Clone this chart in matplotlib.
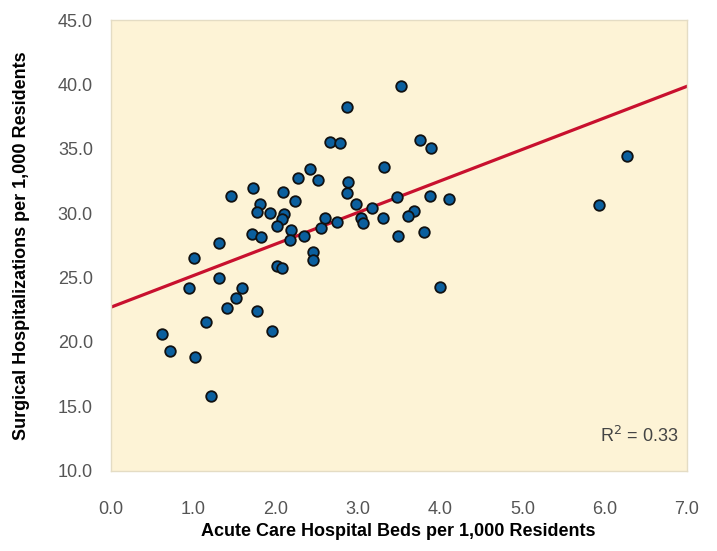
import numpy as np
import matplotlib.pyplot as plt

# acute care hospital beds per 1,000 residents
beds = [0.62, 0.72, 1.02, 1.21, 1.16, 1.41, 1.52, 1.59, 0.95, 1.31,
        1.77, 1.96, 1.01, 1.31, 1.46, 1.72, 2.09, 2.27, 2.24, 1.81,
        1.78, 1.93, 2.10, 2.08, 2.02, 2.19, 2.18, 1.71, 1.82, 2.02,
        2.08, 2.34, 2.55, 2.60, 2.75, 2.45, 2.45, 2.52, 2.42, 2.66,
        2.78, 2.87, 2.88, 2.87, 2.98, 3.04, 3.06, 3.17, 3.30, 3.32,
        3.52, 3.48, 3.68, 3.61, 3.76, 3.89, 3.88, 4.11, 3.49, 3.80,
        4.00, 5.93, 6.27]

# surgical hospitalizations per 1,000 residents
surg = [20.65, 19.30, 18.83, 15.80, 21.51, 22.61, 23.43, 24.16, 24.16, 24.96,
        22.42, 20.87, 26.48, 27.72, 31.33, 31.93, 31.64, 32.71, 30.97, 30.73,
        30.11, 30.04, 29.95, 29.56, 29.04, 28.69, 27.92, 28.38, 28.17, 25.90,
        25.74, 28.26, 28.81, 29.60, 29.31, 27.01, 26.36, 32.57, 33.43, 35.50,
        35.42, 38.27, 32.44, 31.59, 30.69, 29.65, 29.21, 30.38, 29.65, 33.56,
        39.87, 31.23, 30.19, 29.78, 35.68, 35.04, 31.36, 31.10, 28.23, 28.51,
        24.29, 30.63, 34.44]

# fitted trend line
intercept = 22.7
slope = 2.45
r_squared = 0.33

x_ticks = [0, 1, 2, 3, 4, 5, 6, 7]
y_ticks = [10, 15, 20, 25, 30, 35, 40, 45]

plt.rcParams['font.family'] = ['Liberation Sans Narrow', 'Liberation Sans', 'DejaVu Sans']

fig = plt.figure(figsize=(7.17, 5.51), dpi=100)
ax = fig.add_axes([0.1548, 0.1457, 0.8033, 0.818])
ax.set_facecolor('#fdf3d6')

xs = np.array([0, 7])
ax.plot(xs, intercept + slope * xs, color='#c8102e', lw=2.3, zorder=2)
ax.scatter(beds, surg, s=58, color='#0b5f9e', edgecolors='#111111',
           linewidths=1.3, zorder=3)

ax.set_xlim(0, 7)
ax.set_ylim(10, 45)
ax.set_xticks(x_ticks)
ax.set_yticks(y_ticks)
ax.set_xticklabels(['{:.1f}'.format(v) for v in x_ticks])
ax.set_yticklabels(['{:.1f}'.format(v) for v in y_ticks])
ax.tick_params(axis='x', length=0, pad=22, labelsize=13, labelcolor='#555555')
ax.tick_params(axis='y', length=0, pad=13, labelsize=13, labelcolor='#555555')

for side in ['left', 'bottom', 'right', 'top']:
    ax.spines[side].set_color('#e4dcc4')
    ax.spines[side].set_linewidth(1.0)

ax.text(0.985, 0.055, 'R$^2$ = {:.2f}'.format(r_squared), transform=ax.transAxes,
        ha='right', va='bottom', fontsize=13, color='#444444')

fig.text(0.556, 0.02, 'Acute Care Hospital Beds per 1,000 Residents',
         ha='center', va='bottom', fontsize=13, fontweight='bold')
fig.text(0.03, 0.555, 'Surgical Hospitalizations per 1,000 Residents',
         ha='center', va='center', rotation=90, fontsize=13, fontweight='bold')

fig.savefig('out.png', dpi=100)
